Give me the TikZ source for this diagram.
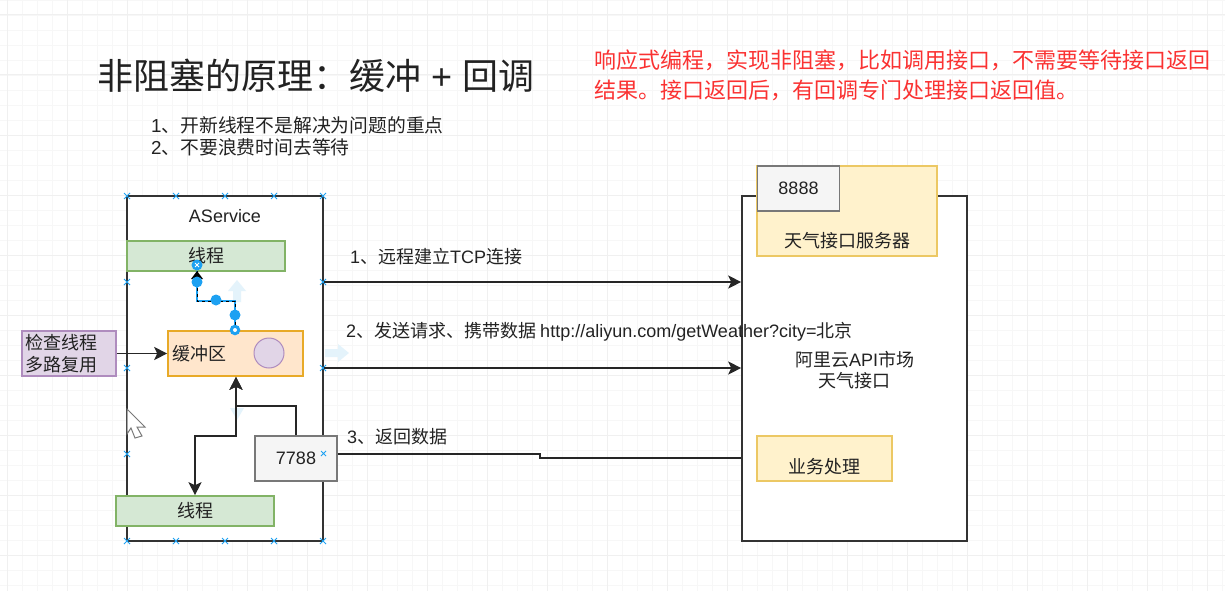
\documentclass[tikz,border=0pt]{standalone}
\usepackage{fontspec}
\setmainfont{Noto Sans CJK SC}
\newfontfamily\latin{Liberation Sans}
\definecolor{gridminor}{RGB}{247,247,247}
\definecolor{gridline}{RGB}{240,240,240}
\definecolor{selblue}{RGB}{29,161,242}
\definecolor{hoverblue}{RGB}{228,243,251}
\definecolor{greenfill}{RGB}{213,232,212}
\definecolor{greenline}{RGB}{130,179,102}
\definecolor{orangefill}{RGB}{255,230,204}
\definecolor{orangeline}{RGB}{232,170,40}
\definecolor{yellowfill}{RGB}{255,242,204}
\definecolor{yellowline}{RGB}{236,200,100}
\definecolor{purplefill}{RGB}{225,213,231}
\definecolor{purpleline}{RGB}{175,140,190}
\definecolor{greyfill}{RGB}{245,245,245}
\definecolor{greyline}{RGB}{120,120,120}
\definecolor{inktext}{RGB}{34,34,34}
\definecolor{redtext}{RGB}{250,50,50}
\usetikzlibrary{arrows.meta}
\tikzset{
  box/.style={draw=black!80,line width=1.6pt,fill=white,inner sep=0pt,text=inktext,align=center,font=\fontsize{18}{21}\selectfont},
  threadbox/.style={box,draw=greenline,fill=greenfill,minimum width=158pt,minimum height=30pt},
  portbox/.style={box,draw=greyline,fill=greyfill,minimum width=82pt,minimum height=45pt},
  servicebox/.style={box,draw=yellowline,fill=yellowfill},
  txt/.style={inner sep=0pt,text=inktext,font=\fontsize{18}{22}\selectfont},
  conn/.style={-{Stealth[length=13pt,width=13pt,inset=3pt]},line width=1.5pt,black!85},
  xmark/.style={selblue,line width=1pt},
  dot/.style={circle,fill=selblue,inner sep=0pt,minimum size=11pt},
  ring/.style={circle,draw=selblue,fill=white,line width=1.5pt,inner sep=0pt,minimum size=9pt},
  hover/.style={fill=hoverblue}
}
\begin{document}
\begin{tikzpicture}[x=1pt,y=-1pt]
  \useasboundingbox (0,0) rectangle (1225,591);
  % background grid
  \foreach \gx in {7,22,...,1222} \draw [gridminor,line width=0.5pt] (\gx,0) -- (\gx,591);
  \foreach \gy in {0,15,...,585} \draw [gridminor,line width=0.5pt] (0,\gy) -- (1225,\gy);
  \foreach \gx in {7,67,...,1222} \draw [gridline,line width=1pt] (\gx,0) -- (\gx,591);
  \foreach \gy in {15,75,...,585} \draw [gridline,line width=1pt] (0,\gy) -- (1225,\gy);

  % headings
  \node (title) [txt,anchor=west,font=\fontsize{36}{40}\selectfont] at (97,76) {非阻塞的原理：缓冲{\latin\ + }回调};
  \node (notes) [txt,anchor=north west,align=left,font=\fontsize{18.8}{22}\selectfont] at (151,116)
        {{\latin 1}、开新线程不是解决为问题的重点\\{\latin 2}、不要浪费时间去等待};
  \node (remark) [txt,anchor=north west,align=left,text=redtext,font=\fontsize{22}{30}\selectfont] at (594,50)
        {响应式编程，实现非阻塞，比如调用接口，不需要等待接口返回\\结果。接口返回后，有回调专门处理接口返回值。};

  % left service
  \node (aservice) [box,minimum width=196pt,minimum height=345pt] at (225,368.5) {};
  \node (aname) [txt] at (225,216) {\latin AService};
  \foreach \hx in {176,225,274,323,127}
    \foreach \hy in {196,541} {
      \draw [xmark] (\hx-3,\hy-3) -- (\hx+3,\hy+3) (\hx-3,\hy+3) -- (\hx+3,\hy-3);
    }
  \foreach \hx in {127,323}
    \foreach \hy in {282,368,454} {
      \draw [xmark] (\hx-3,\hy-3) -- (\hx+3,\hy+3) (\hx-3,\hy+3) -- (\hx+3,\hy-3);
    }

  % pale hover arrows
  \fill [hover] (237,280) -- (246,291) -- (241,291) -- (241,302) -- (233,302) -- (233,291) -- (228,291) -- cycle;
  \fill [hover] (349,353) -- (338,344) -- (338,349) -- (325,349) -- (325,357) -- (338,357) -- (338,362) -- cycle;
  \fill [hover] (230,408) -- (244,408) -- (237,420) -- cycle;

  \node (threadtop) [threadbox] at (206,256) {线程};
  \node (threadlow) [threadbox] at (195,511) {线程};
  \node (buffer) [box,draw=orangeline,fill=orangefill,minimum width=135pt,minimum height=45pt,
        text width=127pt,align=left] at (235.5,353.5) {缓冲区};
  \node (bufcircle) [circle,draw=purpleline,fill=purplefill,line width=1pt,minimum size=30pt,inner sep=0pt] at (269,353) {};
  \node (check) [box,draw=purpleline,fill=purplefill,minimum width=94pt,minimum height=45pt,
        text width=88pt,align=left,font=\fontsize{18}{22}\selectfont] at (69,353.5) {检查线程\\多路复用};
  \node (port) [portbox,font=\fontsize{18}{22}\selectfont\latin] at (296,458.5) {7788};

  % right service
  \node (api) [box,minimum width=225pt,minimum height=345pt] at (854.5,368.5) {};
  \node (apiname) [txt,align=center,font=\fontsize{18}{21}\selectfont] at (854.5,370) {阿里云{\latin API}市场\\天气接口};
  \node (server) [servicebox,minimum width=180pt,minimum height=90pt] at (847,211) {};
  \node (servername) [txt] at (847,241) {天气接口服务器};
  \node (serverport) [portbox,font=\fontsize{18}{22}\selectfont\latin] at (798.5,188.5) {8888};
  \node (work) [servicebox,minimum width=135pt,minimum height=45pt] at (824.5,458.5) {};
  \node (workname) [txt] at (824,467) {业务处理};

  % connectors
  \coordinate (a1) at (aservice.east |- 0,282);
  \coordinate (a2) at (aservice.east |- 0,368);
  \draw [conn] (a1) -- (a1 -| api.west);
  \draw [conn] (a2) -- (a2 -| api.west);
  \coordinate (p1) at (port.east |- 0,454);
  \draw [line width=1.5pt,black!85] (p1) -- (540,454) -- (540,458) -- (api.west |- 0,458);
  \draw [conn] (check.east) -- (buffer.west);
  \draw [conn] (port.north) -- (296,406) -- (236,406) -- (buffer.south -| 236,0);
  \draw [conn,{Stealth[length=13pt,width=13pt,inset=3pt]}-{Stealth[length=13pt,width=13pt,inset=3pt]}]
        (buffer.south -| 236,0) -- (236,436) -- (195,436) -- (threadlow.north);

  % selected edge
  \coordinate (s0) at (235,331);
  \coordinate (s1) at (235,301);
  \coordinate (s2) at (197,301);
  \coordinate (s3) at (197,271);
  \draw [selblue,line width=2.5pt] (s0) -- (s1) -- (s2) -- (s3);
  \draw [black,dashed,line width=1pt] (s0) -- (s1) -- (s2) -- (s3);
  \fill [black] (197,271) -- (203,279) -- (191,279) -- cycle;
  \node (h1) [dot] at (197,282) {};
  \node (h2) [dot] at (216,300) {};
  \node (h3) [dot] at (235,315) {};
  \node (h4) [ring] at (235,330) {};
  \node (h5) [dot,minimum size=9pt] at (235,330) {};
  \node (h6) [dot] at (197,265) {};
  \fill [white] (235,330) circle (2pt);
  \draw [white,line width=1pt] (195,263) -- (199,267) (195,267) -- (199,263);

  % edge labels
  \node (l1) [txt,anchor=west] at (350,257) {{\latin 1}、远程建立{\latin TCP}连接};
  \node (l2) [txt,anchor=west] at (346,332) {{\latin 2}、发送请求、携带数据 {\latin http://aliyun.com/getWeather?city=}北京};
  \node (l3) [txt,anchor=west] at (347,437) {{\latin 3}、返回数据};
  \draw [xmark] (321,451) -- (326,456) (321,456) -- (326,451);

  % pointer
  \draw [greyline,fill=white,line width=1pt] (127,409) -- (145,427) -- (137,427) -- (142,436) -- (135,438) -- (131,428) -- (127,434) -- cycle;
\end{tikzpicture}
\end{document}
